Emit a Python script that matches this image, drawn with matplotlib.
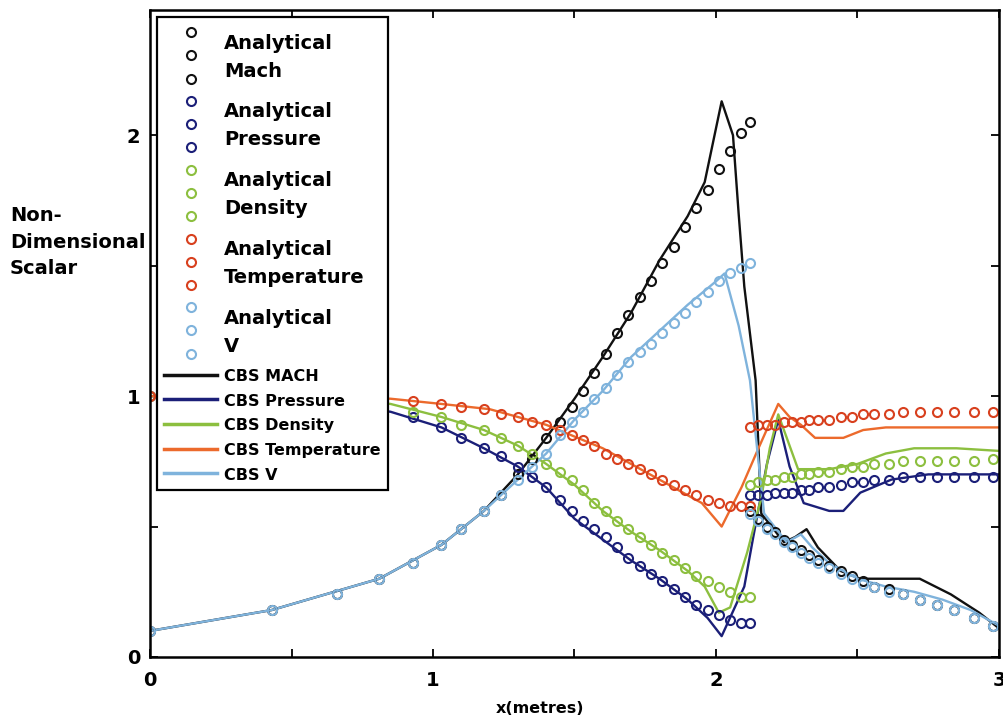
import matplotlib

matplotlib.use("Agg")
import matplotlib.pyplot as plt
from matplotlib.legend_handler import HandlerBase
from matplotlib.lines import Line2D
from matplotlib.ticker import MultipleLocator, FuncFormatter

plt.rcParams.update({"font.family": ["DejaVu Sans"], "font.weight": "bold"})

# analytical solution, sampled where the markers sit (pre-shock, then post-shock)
ana_x = [0.0, 0.43, 0.66, 0.81, 0.93, 1.03, 1.10, 1.18, 1.24, 1.30, 1.35, 1.40,
         1.45, 1.49, 1.53, 1.57, 1.61, 1.65, 1.69, 1.73, 1.77, 1.81, 1.85, 1.89,
         1.93, 1.97, 2.01, 2.05, 2.09, 2.12,
         2.12, 2.15, 2.18, 2.21, 2.24, 2.27, 2.30, 2.33, 2.36, 2.40, 2.44, 2.48,
         2.52, 2.56, 2.61, 2.66, 2.72, 2.78, 2.84, 2.91, 2.98]
ana_mach = [0.10, 0.18, 0.24, 0.30, 0.36, 0.43, 0.49, 0.56, 0.62, 0.70, 0.76, 0.84,
            0.90, 0.96, 1.02, 1.09, 1.16, 1.24, 1.31, 1.38, 1.44, 1.51, 1.57, 1.65,
            1.72, 1.79, 1.87, 1.94, 2.01, 2.05,
            0.56, 0.53, 0.50, 0.48, 0.45, 0.43, 0.41, 0.39, 0.37, 0.35, 0.33, 0.31,
            0.29, 0.27, 0.26, 0.24, 0.22, 0.20, 0.18, 0.15, 0.12]
ana_pressure = [1.00, 1.00, 0.99, 0.96, 0.92, 0.88, 0.84, 0.80, 0.77, 0.73, 0.69, 0.65,
                0.60, 0.56, 0.52, 0.49, 0.46, 0.42, 0.38, 0.35, 0.32, 0.29, 0.26, 0.23,
                0.20, 0.18, 0.16, 0.14, 0.13, 0.13,
                0.62, 0.62, 0.62, 0.63, 0.63, 0.63, 0.64, 0.64, 0.65, 0.65, 0.66, 0.67,
                0.67, 0.68, 0.68, 0.69, 0.69, 0.69, 0.69, 0.69, 0.69]
ana_density = [1.00, 1.00, 0.99, 0.97, 0.94, 0.92, 0.89, 0.87, 0.84, 0.81, 0.78, 0.74,
               0.71, 0.68, 0.64, 0.59, 0.56, 0.52, 0.49, 0.46, 0.43, 0.40, 0.37, 0.34,
               0.31, 0.29, 0.27, 0.25, 0.23, 0.23,
               0.66, 0.67, 0.68, 0.68, 0.69, 0.69, 0.70, 0.70, 0.71, 0.71, 0.72, 0.73,
               0.73, 0.74, 0.74, 0.75, 0.75, 0.75, 0.75, 0.75, 0.76]
ana_temperature = [1.00, 1.00, 1.00, 0.99, 0.98, 0.97, 0.96, 0.95, 0.93, 0.92, 0.90, 0.89,
                   0.87, 0.85, 0.83, 0.81, 0.78, 0.76, 0.74, 0.72, 0.70, 0.68, 0.66, 0.64,
                   0.62, 0.60, 0.59, 0.58, 0.58, 0.58,
                   0.88, 0.89, 0.89, 0.89, 0.90, 0.90, 0.90, 0.91, 0.91, 0.91, 0.92, 0.92,
                   0.93, 0.93, 0.93, 0.94, 0.94, 0.94, 0.94, 0.94, 0.94]
ana_v = [0.10, 0.18, 0.24, 0.30, 0.36, 0.43, 0.49, 0.56, 0.62, 0.68, 0.73, 0.78,
         0.85, 0.90, 0.94, 0.99, 1.03, 1.08, 1.13, 1.17, 1.20, 1.24, 1.28, 1.32,
         1.36, 1.40, 1.44, 1.47, 1.49, 1.51,
         0.55, 0.52, 0.49, 0.47, 0.44, 0.42, 0.40, 0.38, 0.36, 0.34, 0.32, 0.30,
         0.28, 0.27, 0.25, 0.24, 0.22, 0.20, 0.18, 0.15, 0.12]

# CBS numerical solution
cbs_mach_x = [0.0, 0.43, 0.81, 1.03, 1.18, 1.30, 1.40, 1.50, 1.60, 1.70, 1.80, 1.90,
              1.96, 2.02, 2.06, 2.08, 2.10, 2.14, 2.16, 2.24, 2.28, 2.32, 2.36, 2.44,
              2.51, 2.61, 2.72, 2.83, 2.93, 3.00]
cbs_mach = [0.10, 0.18, 0.30, 0.43, 0.56, 0.70, 0.84, 0.99, 1.15, 1.32, 1.52, 1.69,
            1.82, 2.13, 2.00, 1.70, 1.42, 1.06, 0.55, 0.44, 0.46, 0.49, 0.42, 0.33,
            0.30, 0.30, 0.30, 0.24, 0.17, 0.11]
cbs_pressure_x = [0.0, 0.5, 0.85, 1.03, 1.18, 1.30, 1.40, 1.50, 1.60, 1.70, 1.80, 1.90,
                  1.97, 2.02, 2.10, 2.13, 2.18, 2.22, 2.26, 2.31, 2.40, 2.45, 2.51, 2.62,
                  2.75, 3.00]
cbs_pressure = [1.00, 0.99, 0.94, 0.88, 0.80, 0.73, 0.65, 0.53, 0.45, 0.37, 0.30, 0.22,
                0.15, 0.08, 0.27, 0.45, 0.74, 0.91, 0.73, 0.59, 0.56, 0.56, 0.63, 0.68,
                0.70, 0.70]
cbs_density_x = [0.0, 0.5, 0.85, 1.03, 1.18, 1.30, 1.40, 1.50, 1.60, 1.70, 1.80, 1.90,
                 1.96, 2.01, 2.05, 2.11, 2.16, 2.19, 2.22, 2.29, 2.40, 2.50, 2.60, 2.70,
                 2.85, 3.00]
cbs_density = [1.00, 1.00, 0.97, 0.92, 0.87, 0.81, 0.74, 0.66, 0.56, 0.48, 0.41, 0.33,
               0.27, 0.17, 0.19, 0.40, 0.61, 0.80, 0.93, 0.72, 0.72, 0.74, 0.78, 0.80,
               0.80, 0.79]
cbs_temperature_x = [0.0, 0.5, 0.85, 1.03, 1.20, 1.40, 1.60, 1.80, 1.95, 2.02, 2.09,
                     2.15, 2.22, 2.26, 2.30, 2.35, 2.45, 2.52, 2.60, 3.00]
cbs_temperature = [1.00, 1.00, 0.99, 0.97, 0.95, 0.89, 0.80, 0.68, 0.59, 0.50, 0.65,
                   0.80, 0.97, 0.92, 0.89, 0.84, 0.84, 0.87, 0.88, 0.88]
cbs_v_x = [0.0, 0.43, 0.81, 1.03, 1.18, 1.30, 1.40, 1.50, 1.60, 1.70, 1.80, 1.90,
           2.00, 2.03, 2.08, 2.12, 2.15, 2.17, 2.25, 2.30, 2.34, 2.40, 2.50, 2.60,
           2.70, 2.80, 2.90, 3.00]
cbs_v = [0.10, 0.18, 0.30, 0.43, 0.56, 0.68, 0.78, 0.91, 1.02, 1.15, 1.25, 1.35,
         1.44, 1.47, 1.27, 1.06, 0.75, 0.55, 0.44, 0.47, 0.42, 0.36, 0.30, 0.27,
         0.25, 0.22, 0.18, 0.12]

BLACK = "#111111"
NAVY = "#1b1f78"
GREEN = "#8cbf3f"
RED = "#d8401e"
ORANGE = "#ec6a2c"
LIGHTBLUE = "#7fb3dc"


class StackedMarkers(HandlerBase):
    """Three markers stacked vertically next to a two-line label."""

    def legend_artist(self, legend, orig_handle, fontsize, handlebox):
        handlebox.height = 43
        handlebox.ydescent = 14
        x = 19
        m = Line2D([x, x, x], [-10, 6.7, 23.2], linestyle="none",
                   marker=orig_handle.get_marker(),
                   markersize=orig_handle.get_markersize(),
                   markerfacecolor="none",
                   markeredgecolor=orig_handle.get_markeredgecolor(),
                   markeredgewidth=orig_handle.get_markeredgewidth())
        handlebox.add_artist(m)
        return m


fig = plt.figure(figsize=(10.04, 7.19), dpi=100)
ax = fig.add_axes([150 / 1004, 62 / 719, 849 / 1004, 647 / 719])

cbs = [
    (cbs_mach_x, cbs_mach, BLACK, "CBS MACH"),
    (cbs_pressure_x, cbs_pressure, NAVY, "CBS Pressure"),
    (cbs_density_x, cbs_density, GREEN, "CBS Density"),
    (cbs_temperature_x, cbs_temperature, ORANGE, "CBS Temperature"),
    (cbs_v_x, cbs_v, LIGHTBLUE, "CBS V"),
]
ana = [
    (ana_mach, BLACK, "Analytical\nMach"),
    (ana_pressure, NAVY, "Analytical\nPressure"),
    (ana_density, GREEN, "Analytical\nDensity"),
    (ana_temperature, RED, "Analytical\nTemperature"),
    (ana_v, LIGHTBLUE, "Analytical\nV"),
]

line_handles = []
for xs, ys, c, lab in cbs:
    (h,) = ax.plot(xs, ys, color=c, lw=1.7, label=lab)
    line_handles.append(h)

marker_handles = []
for ys, c, lab in ana:
    (h,) = ax.plot(ana_x, ys, linestyle="none", marker="o", markersize=6.5,
                   markerfacecolor="none", markeredgecolor=c, markeredgewidth=1.5,
                   label=lab)
    marker_handles.append(h)

ax.set_xlim(0, 3)
ax.set_ylim(0, 2.48)
ax.xaxis.set_major_locator(MultipleLocator(0.5))
ax.yaxis.set_major_locator(MultipleLocator(0.5))
fmt = FuncFormatter(lambda v, p: f"{v:g}" if abs(v - round(v)) < 1e-9 else "")
ax.xaxis.set_major_formatter(fmt)
ax.yaxis.set_major_formatter(fmt)
ax.tick_params(direction="in", length=6, width=1.3, top=True, right=True,
               labelsize=14)
ax.tick_params(axis="x", pad=10)
ax.tick_params(axis="y", pad=7)
for s in ax.spines.values():
    s.set_linewidth(1.8)

ax.set_xlabel("x(metres)", fontsize=11.5, fontweight="bold", va="center")
ax.xaxis.set_label_coords(0.459, -0.079)
ax.set_ylabel("Non-\nDimensional\nScalar", fontsize=14, fontweight="bold",
              rotation=0, ha="left", va="center", linespacing=1.5)
ax.yaxis.set_label_coords(-0.165, 0.641)

handler_map = {h: StackedMarkers() for h in marker_handles}
leg = ax.legend(marker_handles + line_handles,
                [h.get_label() for h in marker_handles + line_handles],
                loc="upper left", borderaxespad=0.4, fontsize=13,
                handlelength=2.9, handletextpad=0.4, borderpad=0.4,
                labelspacing=0.5, fancybox=False, framealpha=1,
                handler_map=handler_map)
leg.get_frame().set_edgecolor("black")
leg.get_frame().set_linewidth(1.6)
for t in leg.get_texts()[:5]:
    t.set_fontsize(14)
    t.set_linespacing(1.6)
for t in leg.get_texts()[5:]:
    t.set_fontsize(11.5)
for h in leg.legend_handles[5:]:
    h.set_linewidth(2.5)

fig.savefig("out.png", dpi=100)
